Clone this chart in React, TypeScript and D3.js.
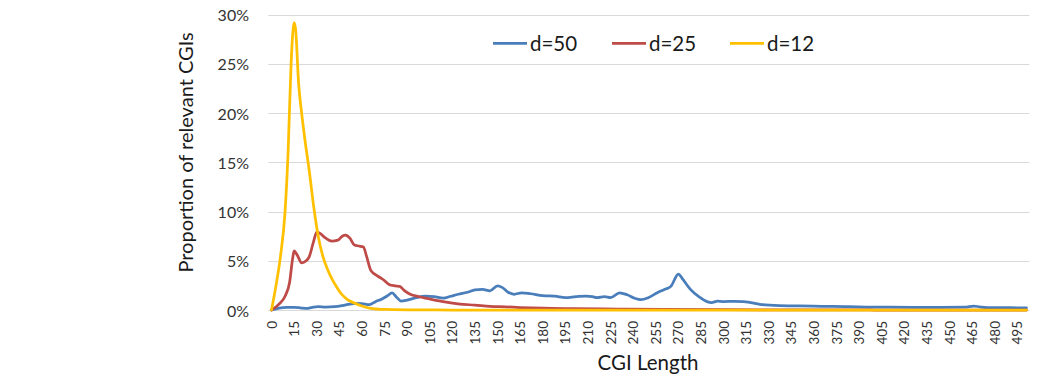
import React from "react";
import * as d3 from "d3";

// ---- data (CGI length, proportion %) ----
const d50X = [0, 5, 10, 15, 20, 24, 28, 31, 36, 42, 47, 52, 56, 60, 65, 69, 73, 77, 80, 83, 86, 90, 96, 102, 108, 114, 119, 124, 130, 135, 140, 145, 150, 153, 157, 161, 166, 172, 180, 188, 195, 202, 209, 213, 216, 221, 225, 231, 236, 241, 245, 250, 256, 261, 265, 270, 273, 278, 284, 289, 292, 296, 300, 307, 313, 318, 324, 337, 350, 365, 380, 395, 410, 426, 445, 460, 466, 470, 475, 490, 501];
const d50Y = [0, 0.2, 0.27, 0.27, 0.2, 0.17, 0.3, 0.34, 0.3, 0.34, 0.45, 0.6, 0.68, 0.65, 0.55, 0.85, 1.1, 1.45, 1.75, 1.3, 0.9, 1.0, 1.25, 1.4, 1.35, 1.2, 1.4, 1.6, 1.8, 2.05, 2.1, 1.95, 2.45, 2.3, 1.8, 1.6, 1.75, 1.65, 1.45, 1.4, 1.25, 1.35, 1.42, 1.35, 1.25, 1.35, 1.25, 1.75, 1.55, 1.2, 1.05, 1.25, 1.75, 2.1, 2.4, 3.65, 3.1, 2.1, 1.3, 0.85, 0.75, 0.9, 0.85, 0.88, 0.85, 0.75, 0.58, 0.45, 0.42, 0.38, 0.34, 0.3, 0.28, 0.27, 0.27, 0.28, 0.4, 0.32, 0.25, 0.23, 0.22];

const d25X = [0, 5, 9, 12, 14, 15, 17, 20, 23, 25, 28, 30, 32, 36, 40, 44, 47, 49, 52, 55, 58, 61, 63, 66, 70, 74, 78, 82, 85, 88, 92, 98, 104, 110, 118, 125, 135, 145, 155, 165, 180, 200, 230, 260, 300, 350, 400, 501];
const d25Y = [0, 0.6, 1.4, 2.8, 5.2, 6.0, 5.6, 4.8, 5.0, 5.4, 7.0, 7.9, 7.8, 7.3, 7.0, 7.1, 7.5, 7.6, 7.3, 6.6, 6.5, 6.4, 5.5, 4.0, 3.5, 3.1, 2.6, 2.45, 2.4, 2.0, 1.6, 1.35, 1.15, 0.95, 0.75, 0.6, 0.5, 0.38, 0.32, 0.25, 0.18, 0.14, 0.1, 0.06, 0.03, 0.01, 0, 0];

const d12X = [0, 3, 6, 9, 11, 13, 15, 16, 18, 20, 22, 25, 28, 31, 34, 37, 40, 43, 46, 50, 55, 60, 65, 75, 90, 120, 300, 501];
const d12Y = [0, 2.5, 5.5, 10, 16, 25, 29.2, 28.5, 23, 20, 17.5, 14.2, 10.5, 7.5, 5.5, 4.2, 3.2, 2.4, 1.7, 1.1, 0.7, 0.4, 0.2, 0.06, 0.02, 0, 0, 0];

const seriesNames = ["d=50", "d=25", "d=12"];
const seriesColors = ["#4A7EBB", "#BE4B48", "#FFC000"];
const seriesX = [d50X, d25X, d12X];
const seriesY = [d50Y, d25Y, d12Y];

const xTicks = d3.range(0, 496, 15);
const yTicks = [0, 5, 10, 15, 20, 25, 30];

const W = 1051;
const H = 381;
const FONT = "Lato, 'Open Sans', sans-serif";

export default function App() {
  const x = d3.scaleLinear().domain([0, 501]).range([271.5, 1026.5]);
  const y = d3.scaleLinear().domain([0, 30]).range([310, 14.7]);
  const gridX0 = 268.3;
  const gridX1 = 1029.3;

  const line = d3
    .line<[number, number]>()
    .x((d) => x(d[0]))
    .y((d) => y(d[1]))
    .curve(d3.curveMonotoneX);

  const legendX = [493, 612, 730];
  const legendY = 43.3;

  return (
    <svg
      width={W}
      height={H}
      style={{ position: "absolute", left: 0, top: 0, background: "#fff" }}
      fontFamily={FONT}
    >
      {yTicks.map((t) => (
        <line
          key={"g" + t}
          x1={gridX0}
          x2={gridX1}
          y1={Math.round(y(t)) + 0.5}
          y2={Math.round(y(t)) + 0.5}
          stroke="#d9d9d9"
          strokeWidth={1}
        />
      ))}
      {yTicks.map((t) => (
        <text
          key={"yt" + t}
          x={249}
          y={y(t)}
          textAnchor="end"
          dominantBaseline="central"
          fontSize={16}
          fill="#333333"
        >
          {t + "%"}
        </text>
      ))}
      {xTicks.map((t) => (
        <text
          key={"xt" + t}
          transform={`translate(${x(t)},321) rotate(-90)`}
          textAnchor="end"
          dominantBaseline="central"
          fontSize={13.5}
          fill="#333333"
        >
          {t}
        </text>
      ))}
      {seriesNames.map((n, i) => (
        <path
          key={"s" + n}
          d={line(seriesX[i].map((v, j) => [v, seriesY[i][j]] as [number, number])) || ""}
          fill="none"
          stroke={seriesColors[i]}
          strokeWidth={2.75}
          strokeLinejoin="round"
          strokeLinecap="round"
        />
      ))}
      {seriesNames.map((n, i) => (
        <g key={"l" + n}>
          <line
            x1={legendX[i]}
            x2={legendX[i] + 34}
            y1={legendY}
            y2={legendY}
            stroke={seriesColors[i]}
            strokeWidth={2.75}
          />
          <text
            x={legendX[i] + 37}
            y={legendY}
            dominantBaseline="central"
            fontSize={20.5}
            fill="#1a1a1a"
          >
            {n}
          </text>
        </g>
      ))}
      <text
        transform={`translate(185,152.5) rotate(-90)`}
        textAnchor="middle"
        dominantBaseline="central"
        fontSize={20}
        fill="#1a1a1a"
      >
        Proportion of relevant CGIs
      </text>
      <text x={648} y={370} textAnchor="middle" fontSize={20.5} fill="#1a1a1a">
        CGI Length
      </text>
    </svg>
  );
}
